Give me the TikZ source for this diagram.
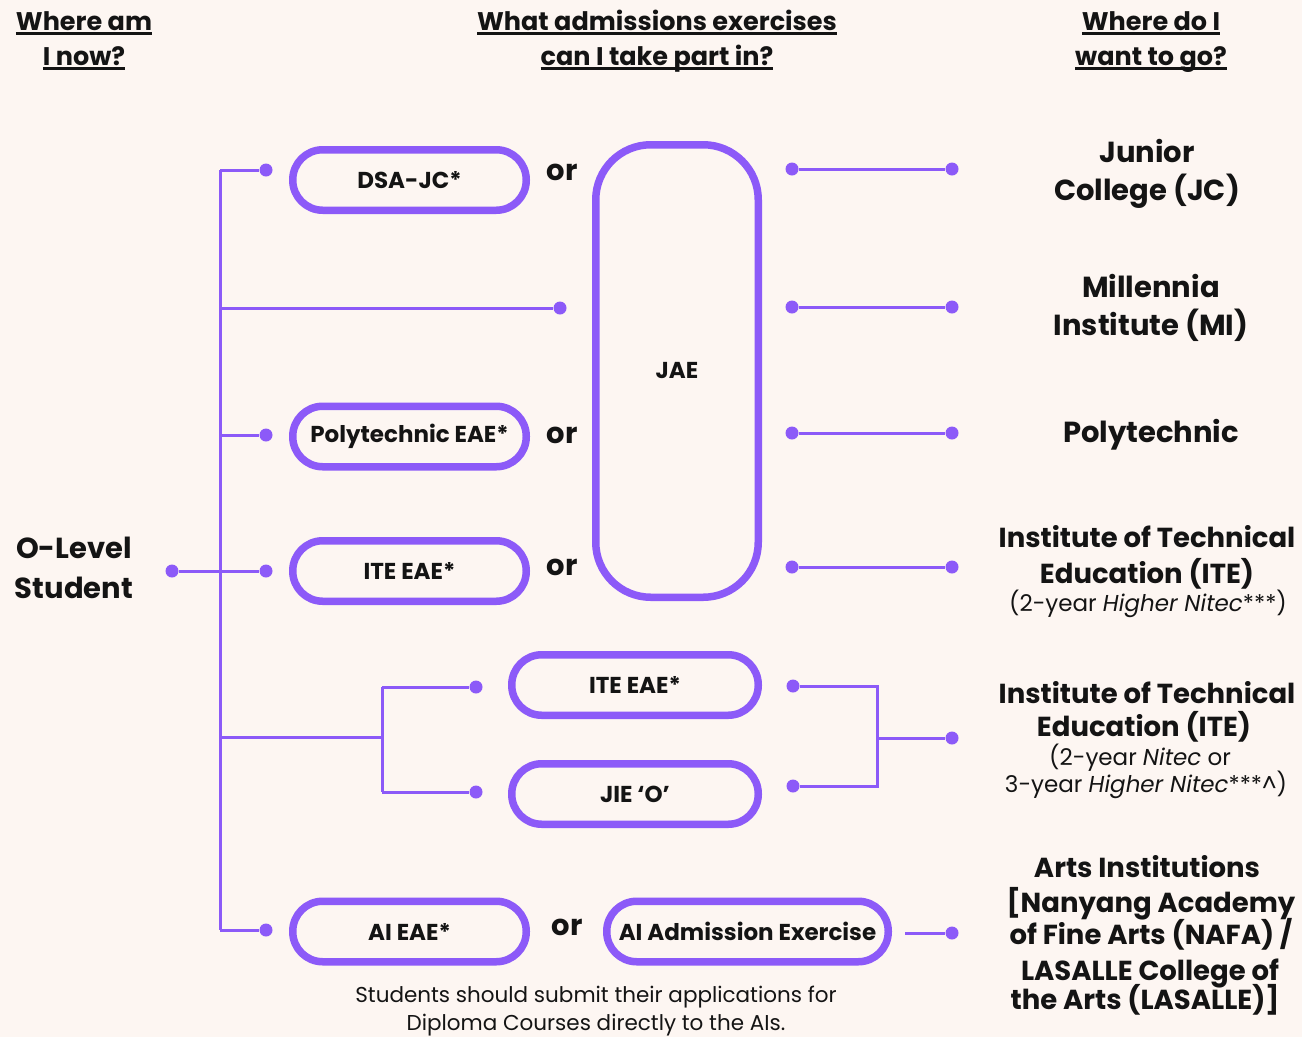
\documentclass[tikz,border=0pt]{standalone}
\usepackage{fontspec}
\setmainfont{Poppins}
\definecolor{bg}{HTML}{FDF6F2}
\definecolor{vio}{HTML}{8C5AF8}
\definecolor{ink}{HTML}{141414}
\newcommand\hdrul[1]{\setbox0=\hbox{#1}\rlap{\color{ink}\rule[-4.5pt]{\wd0}{2.6pt}}\box0}
\begin{document}
\begin{tikzpicture}[x=1pt,y=-1pt,
  pill/.style={draw=vio,line width=7.5pt,fill=bg,rounded corners=30pt,minimum height=60.5pt,inner sep=0pt,font=\fontsize{23}{27}\selectfont\bfseries,text=ink},
  dotn/.style={circle,fill=vio,minimum size=13pt,inner sep=0pt},
  conn/.style={draw=vio,line width=3pt},
  hdr/.style={anchor=base,font=\fontsize{25.5}{30}\selectfont\bfseries,text=ink,inner sep=0pt},
  dest/.style={anchor=base,font=\fontsize{29}{34}\selectfont\bfseries,text=ink,inner sep=0pt},
  destm/.style={anchor=base,font=\fontsize{27.5}{34}\selectfont\bfseries,text=ink,inner sep=0pt},
  dests/.style={anchor=base,font=\fontsize{23}{28}\selectfont,text=ink,inner sep=0pt},
  ortxt/.style={font=\fontsize{29}{34}\selectfont\bfseries,text=ink,inner sep=0pt},
  note/.style={anchor=base,font=\fontsize{21.5}{26}\selectfont,text=ink,inner sep=0pt}]
\fill[bg] (0,0) rectangle (1302,1037);
\useasboundingbox (0,0) rectangle (1302,1037);

% headers
\node[hdr] (h1a) at (84,30) {\hdrul{Where am}};
\node[hdr] (h1b) at (84,65) {\hdrul{I now?}};
\node[hdr] (h2a) at (657,30) {\hdrul{What admissions exercises}};
\node[hdr] (h2b) at (657,65) {\hdrul{can I take part in?}};
\node[hdr] (h3a) at (1151,30) {\hdrul{Where do I}};
\node[hdr] (h3b) at (1151,65) {\hdrul{want to go?}};

% left label
\node[dest] (ola) at (74,558) {O-Level};
\node[dest] (olb) at (74,598) {Student};

% pills
\node[pill,minimum width=233.5pt] (dsa) at (409.5,180) {DSA-JC*};
\node[pill,minimum width=233.5pt] (poly) at (409.5,436.5) {Polytechnic EAE*};
\node[pill,minimum width=233.5pt] (iteA) at (409.5,571) {ITE EAE*};
\node[pill,minimum width=162.5pt,minimum height=452.5pt,rounded corners=55pt] (jae) at (677,371) {JAE};
\node[pill,minimum width=246.5pt] (iteB) at (635,685) {ITE EAE*};
\node[pill,minimum width=246.5pt] (jie) at (635,794) {JIE ‘O’};
\node[pill,minimum width=233.5pt] (aieae) at (409.5,931.5) {AI EAE*};
\node[pill,minimum width=281.5pt] (aiadm) at (747.5,931.5) {AI Admission Exercise};

% or labels
\node[ortxt] (or1) at (562,172) {or};
\node[ortxt] (or2) at (562,435) {or};
\node[ortxt] (or3) at (562,567) {or};
\node[ortxt] (or4) at (567,927) {or};

% left dots
\node[dotn] (d1) at (266,170) {};
\node[dotn] (d2) at (560,308) {};
\node[dotn] (d3) at (266,435) {};
\node[dotn] (d4) at (266,571) {};
\node[dotn] (d0) at (172,571) {};
\node[dotn] (d5) at (476,687) {};
\node[dotn] (d6) at (476,792) {};
\node[dotn] (d7) at (266,930) {};
\coordinate (t1) at (220,170);
\coordinate (t2) at (220,308);
\coordinate (t3) at (220,435);
\coordinate (t5) at (220,737);
\coordinate (t7) at (220,930);
\coordinate (j0) at (382,737);
\coordinate (j1) at (382,687);
\coordinate (j2) at (382,792);
\draw[conn] (t1) -- (t7);
\draw[conn] (t1) -- (d1);
\draw[conn] (t2) -- (d2);
\draw[conn] (t3) -- (d3);
\draw[conn] (d0) -- (d4);
\draw[conn] (t5) -- (j0);
\draw[conn] (j1) -- (j2);
\draw[conn] (j1) -- (d5);
\draw[conn] (j2) -- (d6);
\draw[conn] (t7) -- (d7);

% right dots
\node[dotn] (r1a) at (792,169) {};
\node[dotn] (r1b) at (952,169) {};
\node[dotn] (r2a) at (792,307) {};
\node[dotn] (r2b) at (952,307) {};
\node[dotn] (r3a) at (792,433) {};
\node[dotn] (r3b) at (952,433) {};
\node[dotn] (r4a) at (792,567) {};
\node[dotn] (r4b) at (952,567) {};
\node[dotn] (r5a) at (793,686) {};
\node[dotn] (r5b) at (793,786) {};
\node[dotn] (r5c) at (952,738) {};
\node[dotn] (r6b) at (952,933) {};
\coordinate (k1) at (877,686);
\coordinate (k2) at (877,786);
\coordinate (k0) at (877,738);
\coordinate (r6a) at (905,933);
\draw[conn] (r1a) -- (r1b);
\draw[conn] (r2a) -- (r2b);
\draw[conn] (r3a) -- (r3b);
\draw[conn] (r4a) -- (r4b);
\draw[conn] (r5a) -- (k1) -- (k2) -- (r5b);
\draw[conn] (k0) -- (r5c);
\draw[conn] (r6a) -- (r6b);

% destinations
\node[dest] (jc1) at (1147,162) {Junior};
\node[dest] (jc2) at (1147,200) {College (JC)};
\node[dest] (mi1) at (1151,297) {Millennia};
\node[dest] (mi2) at (1151,335) {Institute (MI)};
\node[dest] (pl1) at (1151,442) {Polytechnic};
\node[destm] (ia1) at (1147,547) {Institute of Technical};
\node[destm] (ia2) at (1147,583) {Education (ITE)};
\node[dests] (ia3) at (1148,611) {(2-year \textit{Higher Nitec}***)};
\node[destm] (ib1) at (1147,703) {Institute of Technical};
\node[destm] (ib2) at (1144,736) {Education (ITE)};
\node[dests] (ib3) at (1140,765) {(2-year \textit{Nitec} or};
\node[dests] (ib4) at (1146,792) {3-year \textit{Higher Nitec}***\textasciicircum)};
\node[destm] (ar1) at (1147,877) {Arts Institutions};
\node[destm] (ar2) at (1151,912) {[Nanyang Academy};
\node[destm] (ar3) at (1151,944) {of Fine Arts (NAFA) /};
\node[destm] (ar4) at (1150,980) {LASALLE College of};
\node[destm] (ar5) at (1145,1009) {the Arts (LASALLE)]};

% note
\node[note] (n1) at (596,1002) {Students should submit their applications for};
\node[note] (n2) at (596,1030) {Diploma Courses directly to the AIs.};
\end{tikzpicture}
\end{document}
